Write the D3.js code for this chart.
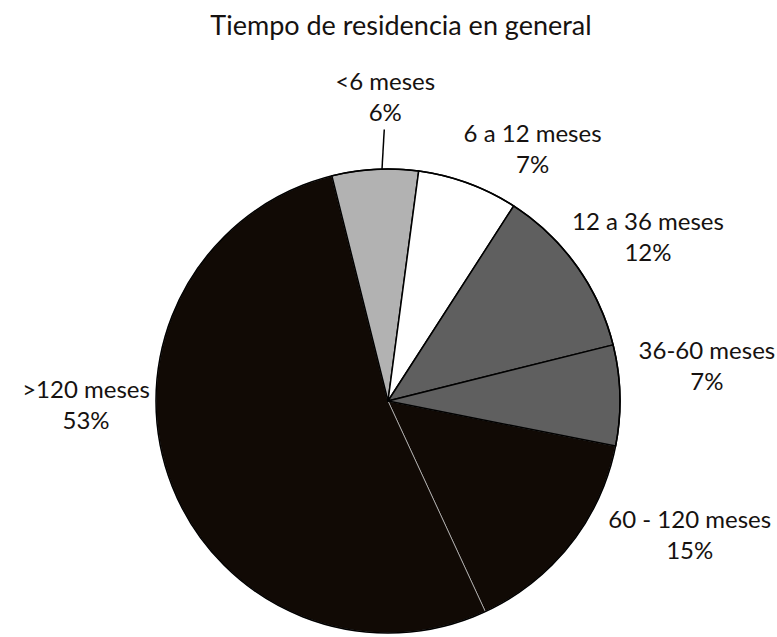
<!DOCTYPE html>
<html>
<head>
<meta charset="utf-8">
<script src="https://cdn.jsdelivr.net/npm/d3@7/dist/d3.min.js"></script>
<style>
  body { margin: 0; background: #fff; }
  text { font-family: "Lato", "Open Sans", sans-serif; fill: #161210; }
</style>
</head>
<body>
<div id="chart"></div>
<script>
// Data
var categories = ["<6 meses", "6 a 12 meses", "12 a 36 meses", "36-60 meses", "60 - 120 meses", ">120 meses"];
var values = [6, 7, 12, 7, 15, 53];
var colors = ["#b2b2b2", "#ffffff", "#5f5f5f", "#5f5f5f", "#110a05", "#110a05"];

// Label nudges (dx, dy) from the default outside position
var labelNudge = [[14, -4], [41, 30], [16, 11], [19, -28], [66, -52], [-19, -96]];

var width = 777, height = 637;
var cx = 388, cy = 401, radius = 232;
var startDeg = -14;

var svg = d3.select("#chart")
  .append("svg")
  .attr("width", width)
  .attr("height", height);

// Title
svg.append("text")
  .attr("x", 401)
  .attr("y", 35)
  .attr("text-anchor", "middle")
  .style("font-size", "27px")
  .text("Tiempo de residencia en general");

var pieData = categories.map(function (c, i) {
  return { name: c, value: values[i], color: colors[i], idx: i };
});

var pie = d3.pie()
  .sort(null)
  .value(function (d) { return d.value; })
  .startAngle(startDeg * Math.PI / 180)
  .endAngle((startDeg + 360) * Math.PI / 180);

var arcs = pie(pieData);

var arc = d3.arc().innerRadius(0).outerRadius(radius);

var g = svg.append("g")
  .attr("transform", "translate(" + cx + "," + cy + ")");

// dark slices first, with a thin light edge
function isDark(d) { return d.data.color === "#110a05"; }

g.selectAll(".dark")
  .data(arcs.filter(isDark))
  .enter()
  .append("path")
  .attr("class", "dark")
  .attr("d", arc)
  .attr("fill", function (d) { return d.data.color; })
  .attr("stroke", "#c8c8c8")
  .attr("stroke-width", 0.7);

g.selectAll(".light")
  .data(arcs.filter(function (d) { return !isDark(d); }))
  .enter()
  .append("path")
  .attr("class", "light")
  .attr("d", arc)
  .attr("fill", function (d) { return d.data.color; })
  .attr("stroke", "#000")
  .attr("stroke-width", 1.5)
  .attr("stroke-linejoin", "round");

// outer border
g.append("circle")
  .attr("r", radius)
  .attr("fill", "none")
  .attr("stroke", "#000")
  .attr("stroke-width", 1.5);

// Labels
var labelRadius = 300;
var labels = svg.selectAll(".label")
  .data(arcs)
  .enter()
  .append("text")
  .attr("class", "label")
  .attr("text-anchor", "middle")
  .style("font-size", "24px")
  .each(function (d, i) {
    var mid = (d.startAngle + d.endAngle) / 2;
    d.lx = cx + labelRadius * Math.sin(mid) + labelNudge[i][0];
    d.ly = cy - labelRadius * Math.cos(mid) + labelNudge[i][1];
    var t = d3.select(this);
    t.append("tspan").attr("x", d.lx).attr("y", d.ly - 7).text(d.data.name);
    t.append("tspan").attr("x", d.lx).attr("y", d.ly + 24).text(d.data.value + "%");
  });

// Leader line for the smallest slice
var first = arcs[0];
var midA = (first.startAngle + first.endAngle) / 2;
svg.append("line")
  .attr("x1", first.lx - 1)
  .attr("y1", first.ly + 32)
  .attr("x2", cx + radius * Math.sin(midA + 0.03))
  .attr("y2", cy - radius * Math.cos(midA + 0.03))
  .attr("stroke", "#000")
  .attr("stroke-width", 1.5);
</script>
</body>
</html>
